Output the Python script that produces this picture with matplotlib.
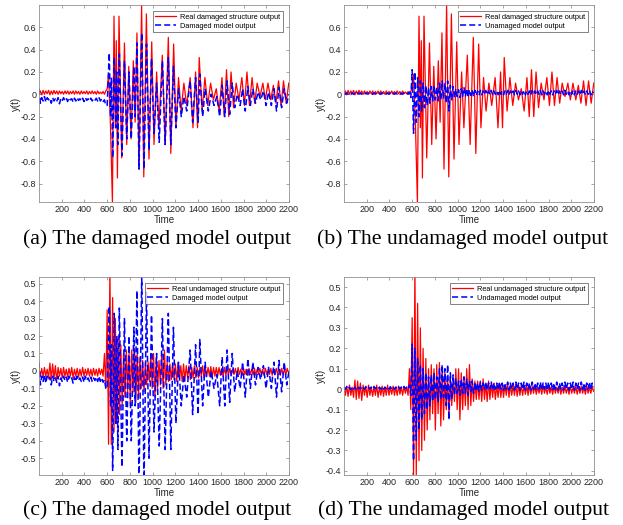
import numpy as np
import matplotlib
matplotlib.use("Agg")
import matplotlib.pyplot as plt

# ---- data ----
# real damaged structure output (red in a, b): pre-event ripple every 12 steps, then extrema
dr_pre = [0.0, 0.03, -0.005, 0.035, 0.0, 0.03, 0.005, 0.035, -0.005, 0.03,
          0.0, 0.035, 0.005, 0.03, 0.0, 0.03, 0.005, 0.025, 0.0, 0.03,
          0.005, 0.03, 0.0, 0.025, 0.005, 0.03, 0.0, 0.03, 0.005, 0.025,
          0.0, 0.03, 0.005, 0.025, 0.005, 0.03, 0.0, 0.025, 0.005, 0.03,
          0.005, 0.025, 0.0, 0.03, 0.005, 0.02, 0.005, 0.025, 0.0, 0.03]
dr_t = [600, 612, 628, 646, 660, 672, 680, 690, 704, 728, 752, 772, 790, 810, 830,
        846, 862, 880, 903, 922, 945, 968, 992, 1012, 1035, 1055, 1085, 1110, 1138,
        1160, 1185, 1205, 1228, 1250, 1275, 1300, 1330, 1355, 1378, 1395, 1410, 1435,
        1460, 1485, 1510, 1535, 1560, 1585, 1610, 1630, 1650, 1670, 1690, 1712, 1735,
        1760, 1785, 1808, 1830, 1852, 1875, 1898, 1920, 1945, 1970, 1992, 2015, 2040,
        2062, 2085, 2108, 2130, 2152, 2175, 2198]
dr_v = [0.05, 0.18, -0.25, -0.965, 0.70, -0.30, 0.48, -0.75, 0.70, -0.57, 0.46, -0.45,
        0.25, -0.40, 0.30, -0.25, 0.55, -0.67, 0.80, -0.74, 0.72, -0.58, 0.47, -0.45,
        0.20, -0.30, 0.35, -0.45, 0.51, -0.53, 0.45, -0.30, 0.15, -0.15, 0.10, -0.10,
        0.15, -0.30, 0.20, -0.30, 0.33, -0.15, 0.15, -0.10, 0.10, -0.05, 0.05, -0.15,
        0.15, -0.20, 0.22, -0.20, 0.20, -0.12, 0.10, -0.05, 0.15, -0.10, 0.20, -0.10,
        0.15, -0.08, 0.10, -0.02, 0.10, -0.05, 0.10, -0.05, 0.08, -0.08, 0.12, -0.10,
        0.12, -0.08, 0.10]

# damaged model output (blue in a, c)
dm_pre = [0.05, -0.08, -0.03, -0.06, -0.02, -0.07, -0.03, -0.05, -0.035, -0.08,
          -0.03, -0.06, -0.04, -0.065, -0.03, -0.085, -0.04, -0.06, -0.03, -0.055,
          -0.035, -0.065, -0.03, -0.05, -0.04, -0.07, -0.035, -0.06, -0.03, -0.055,
          -0.04, -0.06, -0.035, -0.065, -0.03, -0.055, -0.04, -0.06, -0.035, -0.06,
          -0.04, -0.055, -0.035, -0.06, -0.03, -0.06, -0.04, -0.065, -0.05, -0.10]
dm_t = [600, 618, 630, 638, 648, 662, 676, 684, 694, 707, 730, 752, 772, 792, 812,
        835, 846, 862, 880, 904, 924, 946, 968, 990, 1012, 1035, 1058, 1086, 1110,
        1138, 1160, 1183, 1205, 1228, 1252, 1275, 1300, 1330, 1352, 1378, 1400, 1415,
        1440, 1462, 1490, 1515, 1540, 1565, 1590, 1612, 1635, 1655, 1678, 1700, 1722,
        1745, 1770, 1792, 1815, 1838, 1860, 1882, 1905, 1928, 1950, 1975, 1998, 2020,
        2045, 2068, 2090, 2112, 2135, 2158, 2180, 2200]
dm_v = [-0.10, 0.37, -0.20, 0.15, -0.57, 0.33, -0.30, 0.20, -0.45, 0.36, -0.55, 0.30,
        -0.40, 0.20, -0.40, 0.25, -0.20, 0.46, -0.67, 0.55, -0.67, 0.45, -0.50, 0.32,
        -0.35, 0.10, -0.43, 0.30, -0.45, 0.33, -0.45, 0.25, -0.30, 0.05, -0.20, -0.02,
        -0.15, 0.12, -0.25, 0.15, -0.25, 0.18, -0.20, 0.05, -0.15, 0.0, -0.10, -0.02,
        -0.20, 0.08, -0.20, 0.12, -0.18, 0.10, -0.12, 0.0, -0.10, 0.05, -0.15, 0.07,
        -0.10, 0.05, -0.08, 0.02, -0.05, 0.03, -0.10, 0.02, -0.10, 0.05, -0.15, 0.06,
        -0.12, 0.05, -0.08, 0.0]

# real undamaged structure output (red in c, d), one value every 12 steps
ur_pre = [0.01, -0.03, 0.015, -0.035, 0.02, -0.03, 0.01, -0.04, 0.045, -0.05,
          0.04, -0.045, 0.03, -0.055, 0.02, -0.03, 0.015, -0.04, 0.02, -0.03,
          0.01, -0.035, 0.015, -0.03, 0.02, -0.04, 0.01, -0.03, 0.015, -0.035,
          0.01, -0.03, 0.02, -0.03, 0.01, -0.025, 0.015, -0.03, 0.01, -0.03,
          0.015, -0.025, 0.01, -0.03, 0.015, -0.02, 0.01, -0.03, 0.10, -0.10]
ur_mid = [0.35, -0.42, 0.60, -0.42, 0.42, -0.35, 0.30, -0.30, 0.20, -0.25,
          0.15, -0.20, 0.10, -0.15, 0.12, -0.12, 0.10, -0.20, 0.12, -0.12,
          0.13, -0.18, 0.10, -0.15, 0.08, -0.10, 0.06, -0.12, 0.05, -0.08,
          0.05, -0.06, 0.10, -0.10, 0.10, -0.15, 0.08, -0.10, 0.06, -0.08,
          0.10, -0.10, 0.12, -0.08, 0.05, -0.06, 0.04, -0.05, 0.04, -0.05]
ur_tail = [0.04, -0.06, 0.05, -0.05, 0.03, -0.06, 0.04, -0.05, 0.03, -0.04,
           0.03, -0.05, 0.02, -0.04, 0.03, -0.04, 0.02, -0.04, 0.02, -0.03,
           0.03, -0.04, 0.02, -0.03, 0.02, -0.03, 0.025, -0.035, 0.02, -0.03,
           0.02, -0.03, 0.02, -0.025, 0.015, -0.03, 0.02, -0.025, 0.015, -0.02,
           0.015, -0.025, 0.01, -0.02, 0.015, -0.025, 0.02, -0.02, 0.01, -0.025,
           0.015, -0.02, 0.01, -0.025, 0.015, -0.02, 0.01, -0.02, 0.015, -0.025,
           0.01, -0.02, 0.015, -0.02, 0.01, -0.025, 0.015, -0.02, 0.01, -0.02,
           0.015, -0.025, 0.01, -0.02, 0.015, -0.02, 0.01, -0.025, 0.015, -0.02,
           0.01, -0.02, 0.015, -0.01]

# undamaged model output (blue in b, d), one value every 12 steps
um_pre = [0.01, 0.0, 0.012, 0.0, 0.01, -0.002, 0.012, 0.0, 0.01, 0.0,
          0.012, 0.002, 0.01, 0.0, 0.01, 0.0, 0.012, 0.002, 0.01, 0.0,
          0.01, 0.0, 0.012, 0.002, 0.01, 0.0, 0.01, 0.0, 0.012, 0.0,
          0.01, 0.002, 0.01, 0.0, 0.012, 0.0, 0.01, 0.0, 0.01, 0.002,
          0.012, 0.0, 0.01, 0.0, 0.012, 0.002, 0.01, 0.0, 0.02, -0.03]
um_mid = [0.22, -0.35, 0.20, -0.25, 0.15, -0.20, 0.12, -0.15, 0.10, -0.12,
          0.08, -0.10, 0.06, -0.08, 0.07, -0.06, 0.08, -0.05, 0.06, -0.06,
          0.10, -0.05, 0.12, -0.04, 0.10, -0.08, 0.12, -0.15, 0.08, -0.05,
          0.07, -0.03, 0.05, -0.02, 0.04, -0.03, 0.05, -0.02, 0.06, -0.02,
          0.05, -0.03, 0.04, -0.01, 0.04, -0.02, 0.035, -0.01, 0.03, -0.01]
um_tail = [0.035, -0.005, 0.03, 0.0, 0.035, -0.005, 0.03, 0.0, 0.035, -0.005,
           0.03, 0.0, 0.03, -0.005, 0.035, 0.0, 0.03, -0.005, 0.03, 0.0,
           0.035, -0.005, 0.03, 0.0, 0.03, -0.005, 0.035, 0.0, 0.03, -0.005,
           0.03, 0.0, 0.035, -0.005, 0.03, 0.0, 0.03, -0.005, 0.035, 0.0,
           0.03, -0.005, 0.03, 0.0, 0.035, -0.005, 0.03, 0.0, 0.03, -0.005,
           0.035, 0.0, 0.03, -0.005, 0.03, 0.0, 0.035, -0.005, 0.03, 0.0,
           0.03, -0.005, 0.035, 0.0, 0.03, -0.005, 0.03, 0.0, 0.035, -0.005,
           0.03, 0.0, 0.03, -0.005, 0.035, 0.0, 0.03, -0.005, 0.03, 0.0,
           0.035, -0.005, 0.03, 0.01]

x_ticks = [200, 400, 600, 800, 1000, 1200, 1400, 1600, 1800, 2000, 2200]

panels = [
    ("(a) The damaged model output", "dr", "dm",
     "Real damaged structure output", "Damaged model output",
     (-0.965, 0.80), [-0.8, -0.6, -0.4, -0.2, 0, 0.2, 0.4, 0.6]),
    ("(b) The undamaged model output", "dr", "um",
     "Real damaged structure output", "Unamaged model output",
     (-0.965, 0.80), [-0.8, -0.6, -0.4, -0.2, 0, 0.2, 0.4, 0.6]),
    ("(c) The damaged model output", "ur", "dm",
     "Real undamaged structure output", "Damaged model output",
     (-0.596, 0.538), [-0.5, -0.4, -0.3, -0.2, -0.1, 0, 0.1, 0.2, 0.3, 0.4, 0.5]),
    ("(d) The undamaged model output", "ur", "um",
     "Real undamaged structure output", "Undamaged model output",
     (-0.42, 0.549), [-0.4, -0.3, -0.2, -0.1, 0, 0.1, 0.2, 0.3, 0.4, 0.5]),
]


def steps(start, vals, dt=12):
    return start + dt * np.arange(len(vals))


series = {
    "dr": (np.concatenate([steps(0, dr_pre), dr_t]), np.array(dr_pre + dr_v)),
    "dm": (np.concatenate([steps(0, dm_pre), dm_t]), np.array(dm_pre + dm_v)),
    "ur": (np.concatenate([steps(0, ur_pre), steps(600, ur_mid), steps(1200, ur_tail)]),
           np.array(ur_pre + ur_mid + ur_tail)),
    "um": (np.concatenate([steps(0, um_pre), steps(600, um_mid), steps(1200, um_tail)]),
           np.array(um_pre + um_mid + um_tail)),
}

plt.rcParams["font.family"] = ["Liberation Sans", "DejaVu Sans"]

fig = plt.figure(figsize=(6.23, 5.25), dpi=100)
W, H = 623, 525
boxes = [(39, 5, 289, 202), (344, 5, 594, 202),
         (39, 277, 289, 475), (344, 277, 594, 475)]
cap_xy = [(157, 239), (463, 239), (157, 510), (463, 510)]

for (cap, real_key, model_key, lab1, lab2, ylim, yticks), box, cxy in zip(panels, boxes, cap_xy):
    x0, y0, x1, y1 = box
    ax = fig.add_axes([x0 / W, 1 - y1 / H, (x1 - x0) / W, (y1 - y0) / H])
    tr, vr = series[real_key]
    tm, vm = series[model_key]
    ax.plot(tr, vr, color="#ff0000", lw=0.9, label=lab1)
    ax.plot(tm, vm, color="#0000ff", lw=1.1, ls=(0, (4, 2)), label=lab2)
    ax.set_xlim(0, 2200)
    ax.set_ylim(*ylim)
    ax.set_xticks(x_ticks)
    ax.set_yticks(yticks)
    ax.set_yticklabels([("%g" % v) for v in yticks])
    ax.tick_params(direction="in", length=2.5, width=0.5, labelsize=6.5,
                   colors="#808080", labelcolor="#262626", top=True, right=True, pad=2)
    for s in ax.spines.values():
        s.set_color("#909090")
        s.set_linewidth(0.6)
    ax.set_xlabel("Time", fontsize=7, color="#262626", labelpad=1)
    ax.set_ylabel("y(t)", fontsize=7, color="#262626", labelpad=0)
    leg = ax.legend(loc="upper right", fontsize=5.3, frameon=True, fancybox=False,
                    handlelength=2.8, borderpad=0.35, labelspacing=0.25,
                    borderaxespad=0.8, handletextpad=0.6)
    leg.get_frame().set_edgecolor("#262626")
    leg.get_frame().set_linewidth(0.5)
    fig.text(cxy[0] / W, 1 - cxy[1] / H, cap, ha="center", va="center",
             fontsize=15.7, family="Liberation Serif", color="black")

fig.savefig("out.png", dpi=100)
